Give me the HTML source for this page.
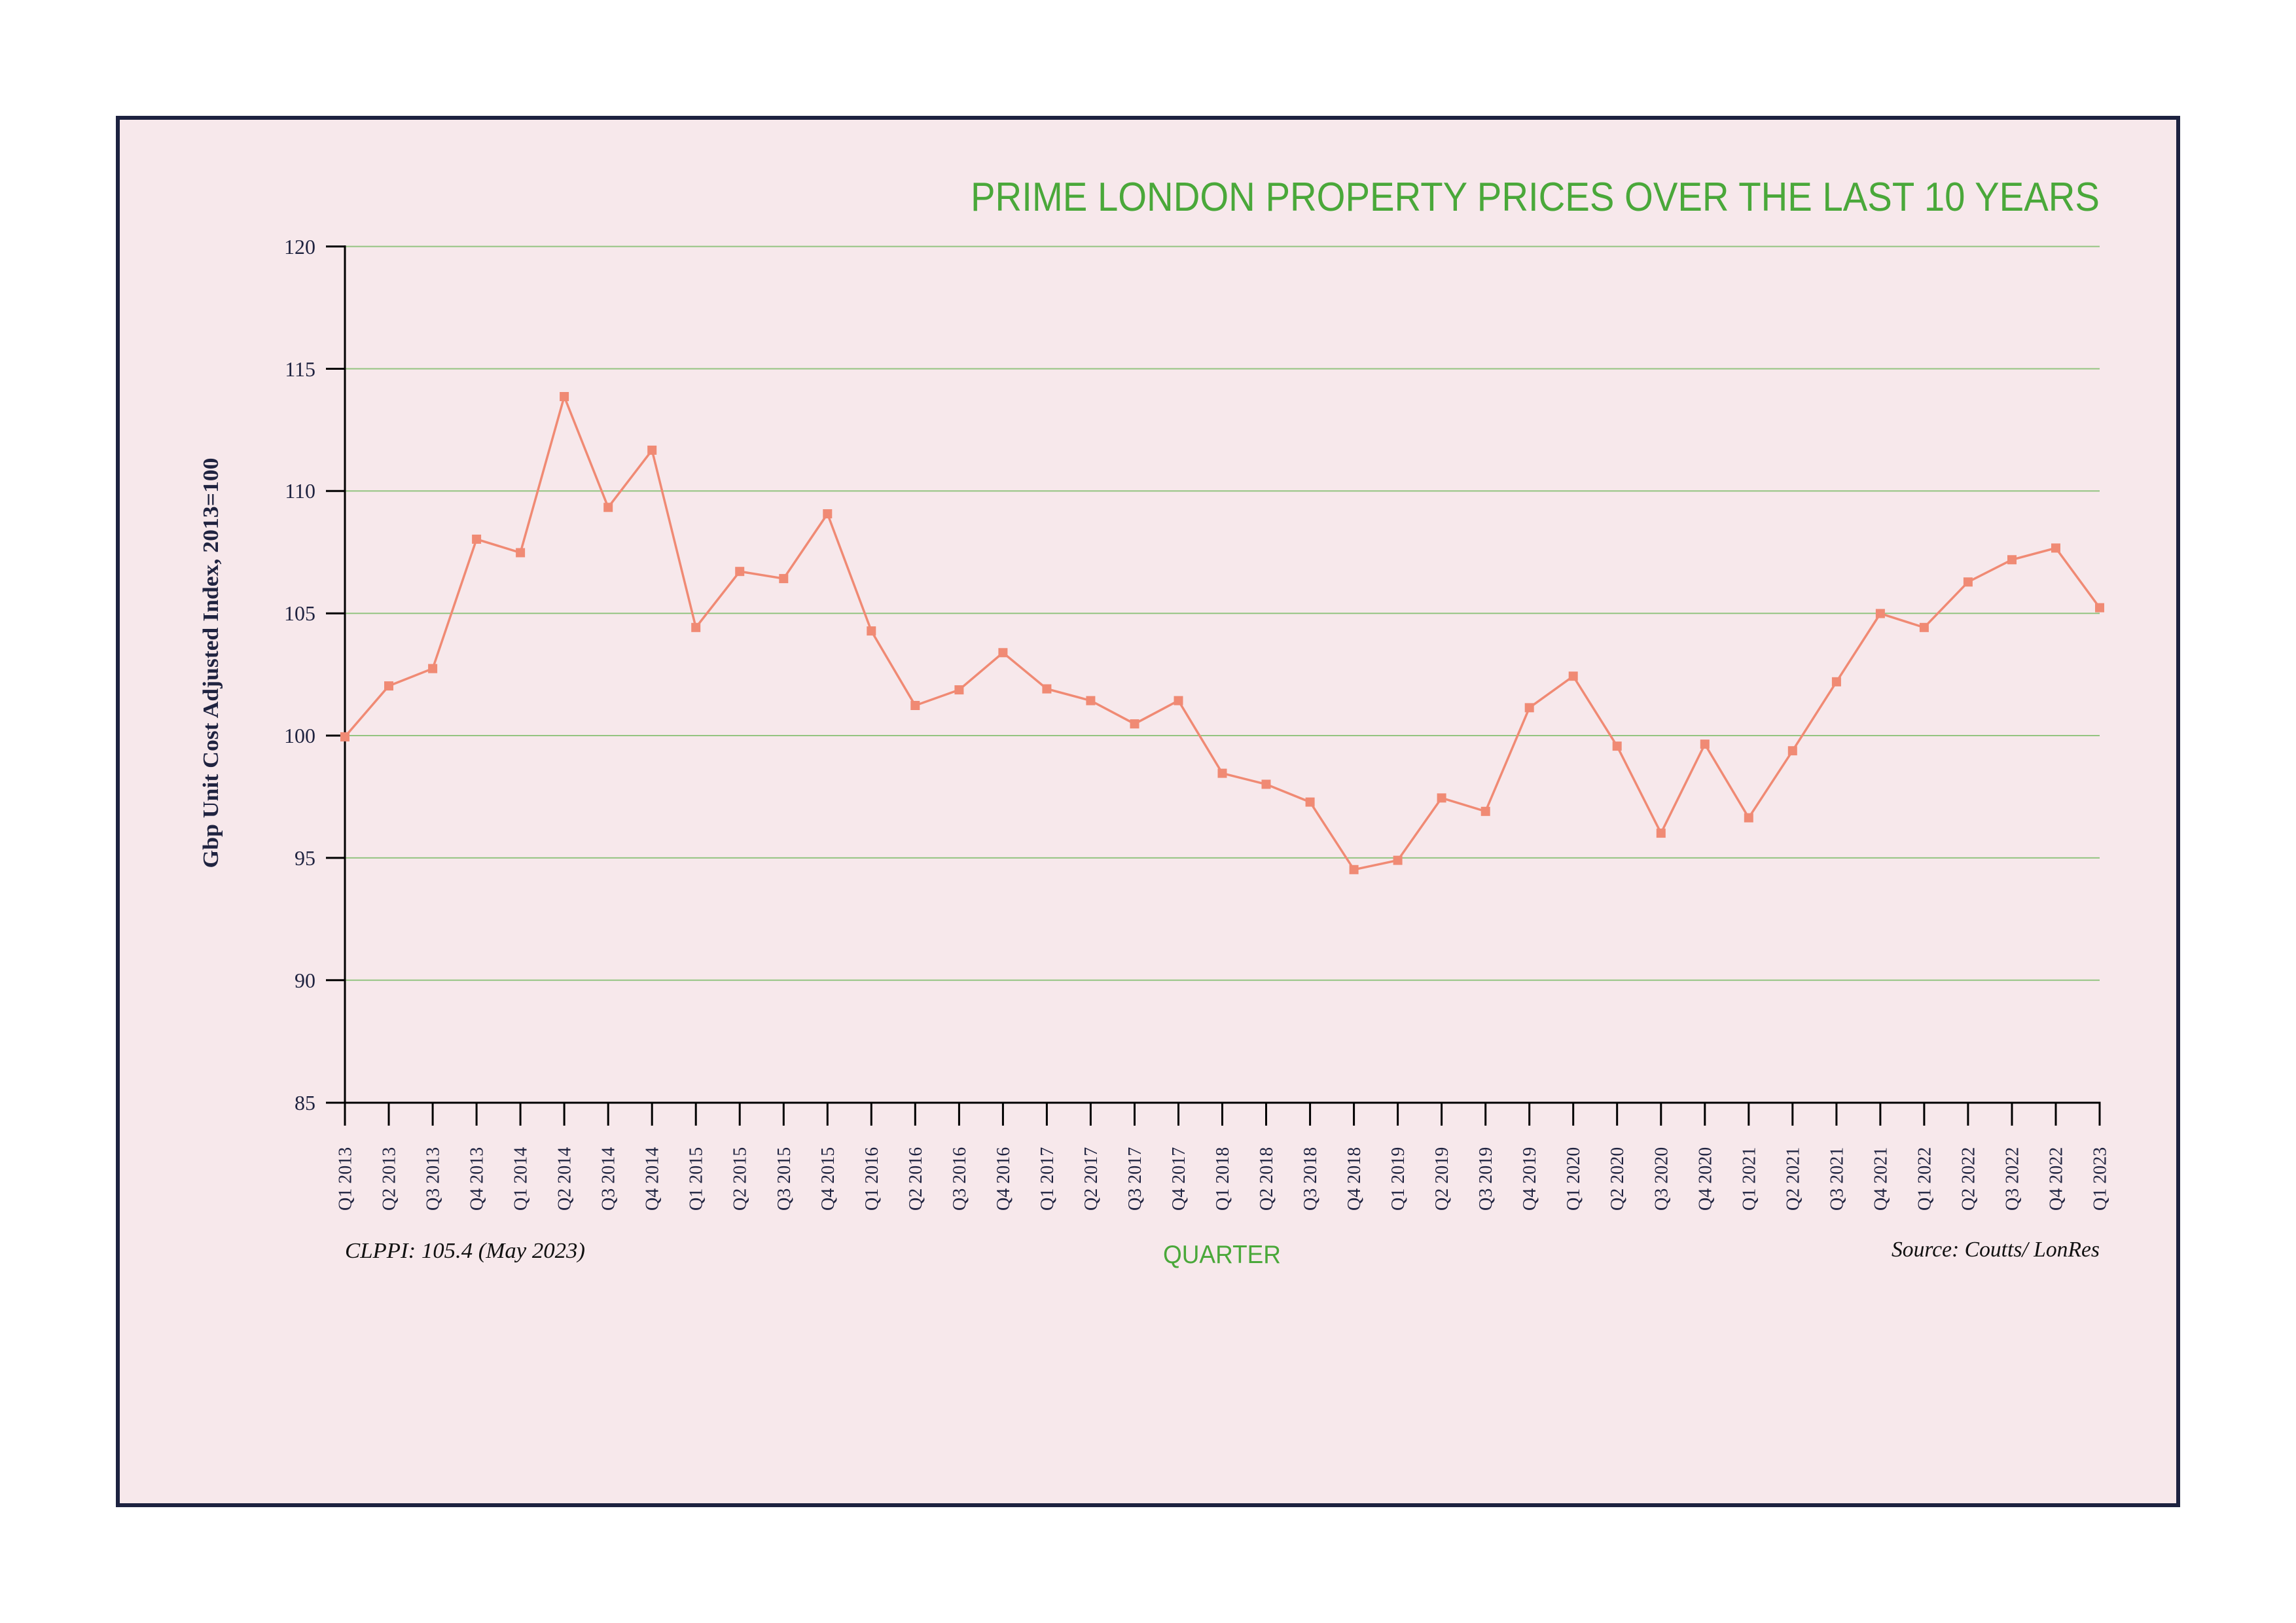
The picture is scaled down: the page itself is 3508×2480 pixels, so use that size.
<!DOCTYPE html>
<html>
<head>
<meta charset="utf-8">
<style>
  html, body { margin: 0; padding: 0; background: #ffffff; }
  svg { display: block; }
</style>
</head>
<body>
<svg width="3508" height="2480" viewBox="0 0 3508 2480" xmlns="http://www.w3.org/2000/svg">
  <rect x="0" y="0" width="3508" height="2480" fill="#ffffff"/>
  <rect x="180" y="180" width="3148" height="2120" fill="#f7e8eb" stroke="#1d2240" stroke-width="6"/>

  <!-- Title -->
  <text x="3208" y="322" text-anchor="end" font-family="Liberation Sans, sans-serif" font-size="62" fill="#4aa83a" textLength="1725" lengthAdjust="spacingAndGlyphs">PRIME LONDON PROPERTY PRICES OVER THE LAST 10 YEARS</text>

  <!-- Gridlines -->
  <g stroke="#94c481" stroke-width="2">
    <line x1="527" y1="376.6" x2="3208" y2="376.6"/>
    <line x1="527" y1="563.5" x2="3208" y2="563.5"/>
    <line x1="527" y1="750.3" x2="3208" y2="750.3"/>
    <line x1="527" y1="937.2" x2="3208" y2="937.2"/>
    <line x1="527" y1="1124" x2="3208" y2="1124"/>
    <line x1="527" y1="1310.9" x2="3208" y2="1310.9"/>
    <line x1="527" y1="1497.7" x2="3208" y2="1497.7"/>
  </g>

  <!-- Axes -->
  <g stroke="#000000" stroke-width="3">
    <line x1="527" y1="375" x2="527" y2="1720"/>
    <line x1="498" y1="1685" x2="3209.5" y2="1685"/>
    <line x1="498" y1="376.6" x2="527" y2="376.6"/>
    <line x1="498" y1="563.5" x2="527" y2="563.5"/>
    <line x1="498" y1="750.3" x2="527" y2="750.3"/>
    <line x1="498" y1="937.2" x2="527" y2="937.2"/>
    <line x1="498" y1="1124" x2="527" y2="1124"/>
    <line x1="498" y1="1310.9" x2="527" y2="1310.9"/>
    <line x1="498" y1="1497.7" x2="527" y2="1497.7"/>
  </g>
  <g stroke="#000000" stroke-width="3">
    <line x1="594.0" y1="1685" x2="594.0" y2="1720"/>
    <line x1="661.1" y1="1685" x2="661.1" y2="1720"/>
    <line x1="728.1" y1="1685" x2="728.1" y2="1720"/>
    <line x1="795.1" y1="1685" x2="795.1" y2="1720"/>
    <line x1="862.1" y1="1685" x2="862.1" y2="1720"/>
    <line x1="929.2" y1="1685" x2="929.2" y2="1720"/>
    <line x1="996.2" y1="1685" x2="996.2" y2="1720"/>
    <line x1="1063.2" y1="1685" x2="1063.2" y2="1720"/>
    <line x1="1130.2" y1="1685" x2="1130.2" y2="1720"/>
    <line x1="1197.3" y1="1685" x2="1197.3" y2="1720"/>
    <line x1="1264.3" y1="1685" x2="1264.3" y2="1720"/>
    <line x1="1331.3" y1="1685" x2="1331.3" y2="1720"/>
    <line x1="1398.3" y1="1685" x2="1398.3" y2="1720"/>
    <line x1="1465.4" y1="1685" x2="1465.4" y2="1720"/>
    <line x1="1532.4" y1="1685" x2="1532.4" y2="1720"/>
    <line x1="1599.4" y1="1685" x2="1599.4" y2="1720"/>
    <line x1="1666.4" y1="1685" x2="1666.4" y2="1720"/>
    <line x1="1733.5" y1="1685" x2="1733.5" y2="1720"/>
    <line x1="1800.5" y1="1685" x2="1800.5" y2="1720"/>
    <line x1="1867.5" y1="1685" x2="1867.5" y2="1720"/>
    <line x1="1934.5" y1="1685" x2="1934.5" y2="1720"/>
    <line x1="2001.6" y1="1685" x2="2001.6" y2="1720"/>
    <line x1="2068.6" y1="1685" x2="2068.6" y2="1720"/>
    <line x1="2135.6" y1="1685" x2="2135.6" y2="1720"/>
    <line x1="2202.6" y1="1685" x2="2202.6" y2="1720"/>
    <line x1="2269.7" y1="1685" x2="2269.7" y2="1720"/>
    <line x1="2336.7" y1="1685" x2="2336.7" y2="1720"/>
    <line x1="2403.7" y1="1685" x2="2403.7" y2="1720"/>
    <line x1="2470.7" y1="1685" x2="2470.7" y2="1720"/>
    <line x1="2537.8" y1="1685" x2="2537.8" y2="1720"/>
    <line x1="2604.8" y1="1685" x2="2604.8" y2="1720"/>
    <line x1="2671.8" y1="1685" x2="2671.8" y2="1720"/>
    <line x1="2738.8" y1="1685" x2="2738.8" y2="1720"/>
    <line x1="2805.9" y1="1685" x2="2805.9" y2="1720"/>
    <line x1="2872.9" y1="1685" x2="2872.9" y2="1720"/>
    <line x1="2939.9" y1="1685" x2="2939.9" y2="1720"/>
    <line x1="3006.9" y1="1685" x2="3006.9" y2="1720"/>
    <line x1="3074.0" y1="1685" x2="3074.0" y2="1720"/>
    <line x1="3141.0" y1="1685" x2="3141.0" y2="1720"/>
    <line x1="3208.0" y1="1685" x2="3208.0" y2="1720"/>
  </g>

  <!-- Y tick labels -->
  <g font-family="Liberation Serif, serif" font-size="32" fill="#1f2340" text-anchor="end">
    <text x="482" y="388">120</text>
    <text x="482" y="575">115</text>
    <text x="482" y="761">110</text>
    <text x="482" y="948">105</text>
    <text x="482" y="1135">100</text>
    <text x="482" y="1322">95</text>
    <text x="482" y="1509">90</text>
    <text x="482" y="1696">85</text>
  </g>

  <!-- Y axis title -->
  <text transform="translate(333,1013) rotate(-90)" text-anchor="middle" font-family="Liberation Serif, serif" font-weight="bold" font-size="34" fill="#1f2340" textLength="627" lengthAdjust="spacingAndGlyphs">Gbp Unit Cost Adjusted Index, 2013=100</text>

  <!-- X tick labels -->
  <g font-family="Liberation Serif, serif" font-size="28" fill="#1f2340">
    <text transform="translate(536.5,1850) rotate(-90)">Q1 2013</text>
    <text transform="translate(603.5,1850) rotate(-90)">Q2 2013</text>
    <text transform="translate(670.6,1850) rotate(-90)">Q3 2013</text>
    <text transform="translate(737.6,1850) rotate(-90)">Q4 2013</text>
    <text transform="translate(804.6,1850) rotate(-90)">Q1 2014</text>
    <text transform="translate(871.6,1850) rotate(-90)">Q2 2014</text>
    <text transform="translate(938.7,1850) rotate(-90)">Q3 2014</text>
    <text transform="translate(1005.7,1850) rotate(-90)">Q4 2014</text>
    <text transform="translate(1072.7,1850) rotate(-90)">Q1 2015</text>
    <text transform="translate(1139.7,1850) rotate(-90)">Q2 2015</text>
    <text transform="translate(1206.8,1850) rotate(-90)">Q3 2015</text>
    <text transform="translate(1273.8,1850) rotate(-90)">Q4 2015</text>
    <text transform="translate(1340.8,1850) rotate(-90)">Q1 2016</text>
    <text transform="translate(1407.8,1850) rotate(-90)">Q2 2016</text>
    <text transform="translate(1474.9,1850) rotate(-90)">Q3 2016</text>
    <text transform="translate(1541.9,1850) rotate(-90)">Q4 2016</text>
    <text transform="translate(1608.9,1850) rotate(-90)">Q1 2017</text>
    <text transform="translate(1675.9,1850) rotate(-90)">Q2 2017</text>
    <text transform="translate(1743.0,1850) rotate(-90)">Q3 2017</text>
    <text transform="translate(1810.0,1850) rotate(-90)">Q4 2017</text>
    <text transform="translate(1877.0,1850) rotate(-90)">Q1 2018</text>
    <text transform="translate(1944.0,1850) rotate(-90)">Q2 2018</text>
    <text transform="translate(2011.1,1850) rotate(-90)">Q3 2018</text>
    <text transform="translate(2078.1,1850) rotate(-90)">Q4 2018</text>
    <text transform="translate(2145.1,1850) rotate(-90)">Q1 2019</text>
    <text transform="translate(2212.1,1850) rotate(-90)">Q2 2019</text>
    <text transform="translate(2279.2,1850) rotate(-90)">Q3 2019</text>
    <text transform="translate(2346.2,1850) rotate(-90)">Q4 2019</text>
    <text transform="translate(2413.2,1850) rotate(-90)">Q1 2020</text>
    <text transform="translate(2480.2,1850) rotate(-90)">Q2 2020</text>
    <text transform="translate(2547.3,1850) rotate(-90)">Q3 2020</text>
    <text transform="translate(2614.3,1850) rotate(-90)">Q4 2020</text>
    <text transform="translate(2681.3,1850) rotate(-90)">Q1 2021</text>
    <text transform="translate(2748.3,1850) rotate(-90)">Q2 2021</text>
    <text transform="translate(2815.4,1850) rotate(-90)">Q3 2021</text>
    <text transform="translate(2882.4,1850) rotate(-90)">Q4 2021</text>
    <text transform="translate(2949.4,1850) rotate(-90)">Q1 2022</text>
    <text transform="translate(3016.4,1850) rotate(-90)">Q2 2022</text>
    <text transform="translate(3083.5,1850) rotate(-90)">Q3 2022</text>
    <text transform="translate(3150.5,1850) rotate(-90)">Q4 2022</text>
    <text transform="translate(3217.5,1850) rotate(-90)">Q1 2023</text>
  </g>

  <!-- Footer texts -->
  <text x="527" y="1922" font-family="Liberation Serif, serif" font-style="italic" font-size="34" fill="#111111" textLength="367" lengthAdjust="spacingAndGlyphs">CLPPI: 105.4 (May 2023)</text>
  <text x="1867" y="1930" text-anchor="middle" font-family="Liberation Sans, sans-serif" font-size="39" fill="#4aa83a" textLength="180" lengthAdjust="spacingAndGlyphs">QUARTER</text>
  <text x="3208" y="1920" text-anchor="end" font-family="Liberation Serif, serif" font-style="italic" font-size="34" fill="#111111" textLength="318" lengthAdjust="spacingAndGlyphs">Source: Coutts/ LonRes</text>

  <!-- Series line -->
  <polyline fill="none" stroke="#f08a74" stroke-width="3.5" stroke-linejoin="miter"
    points="527.0,1125.9 594.0,1048.1 661.1,1021.6 728.1,823.9 795.1,844.5 862.1,606.0 929.2,775.3 996.2,687.9 1063.2,958.8 1130.2,873.2 1197.3,884.1 1264.3,785.1 1331.3,964.1 1398.3,1078.0 1465.4,1054.1 1532.4,997.3 1599.4,1052.6 1666.4,1070.6 1733.5,1106.1 1800.5,1070.6 1867.5,1181.6 1934.5,1198.4 2001.6,1225.6 2068.6,1328.8 2135.6,1314.6 2202.6,1219.3 2269.7,1239.8 2336.7,1081.4 2403.7,1033.2 2470.7,1140.1 2537.8,1273.1 2604.8,1137.1 2671.8,1249.6 2738.8,1147.2 2805.9,1041.8 2872.9,937.5 2939.9,958.8 3006.9,889.3 3074.0,855.3 3141.0,837.4 3208.0,928.6"/>

  <!-- Markers -->
  <g fill="#f08a74">
    <rect x="520.0" y="1118.9" width="14" height="14"/>
    <rect x="587.0" y="1041.1" width="14" height="14"/>
    <rect x="654.1" y="1014.6" width="14" height="14"/>
    <rect x="721.1" y="816.9" width="14" height="14"/>
    <rect x="788.1" y="837.5" width="14" height="14"/>
    <rect x="855.1" y="599.0" width="14" height="14"/>
    <rect x="922.2" y="768.3" width="14" height="14"/>
    <rect x="989.2" y="680.9" width="14" height="14"/>
    <rect x="1056.2" y="951.8" width="14" height="14"/>
    <rect x="1123.2" y="866.2" width="14" height="14"/>
    <rect x="1190.3" y="877.1" width="14" height="14"/>
    <rect x="1257.3" y="778.1" width="14" height="14"/>
    <rect x="1324.3" y="957.1" width="14" height="14"/>
    <rect x="1391.3" y="1071.0" width="14" height="14"/>
    <rect x="1458.4" y="1047.1" width="14" height="14"/>
    <rect x="1525.4" y="990.3" width="14" height="14"/>
    <rect x="1592.4" y="1045.6" width="14" height="14"/>
    <rect x="1659.4" y="1063.6" width="14" height="14"/>
    <rect x="1726.5" y="1099.1" width="14" height="14"/>
    <rect x="1793.5" y="1063.6" width="14" height="14"/>
    <rect x="1860.5" y="1174.6" width="14" height="14"/>
    <rect x="1927.5" y="1191.4" width="14" height="14"/>
    <rect x="1994.6" y="1218.6" width="14" height="14"/>
    <rect x="2061.6" y="1321.8" width="14" height="14"/>
    <rect x="2128.6" y="1307.6" width="14" height="14"/>
    <rect x="2195.6" y="1212.3" width="14" height="14"/>
    <rect x="2262.7" y="1232.8" width="14" height="14"/>
    <rect x="2329.7" y="1074.4" width="14" height="14"/>
    <rect x="2396.7" y="1026.2" width="14" height="14"/>
    <rect x="2463.7" y="1133.1" width="14" height="14"/>
    <rect x="2530.8" y="1266.1" width="14" height="14"/>
    <rect x="2597.8" y="1130.1" width="14" height="14"/>
    <rect x="2664.8" y="1242.6" width="14" height="14"/>
    <rect x="2731.8" y="1140.2" width="14" height="14"/>
    <rect x="2798.9" y="1034.8" width="14" height="14"/>
    <rect x="2865.9" y="930.5" width="14" height="14"/>
    <rect x="2932.9" y="951.8" width="14" height="14"/>
    <rect x="2999.9" y="882.3" width="14" height="14"/>
    <rect x="3067.0" y="848.3" width="14" height="14"/>
    <rect x="3134.0" y="830.4" width="14" height="14"/>
    <rect x="3201.0" y="921.6" width="14" height="14"/>
  </g>
</svg>
</body>
</html>
